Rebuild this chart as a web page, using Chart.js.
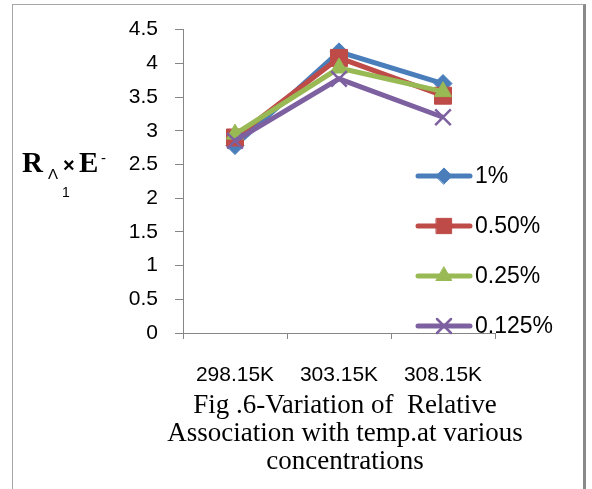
<!DOCTYPE html>
<html>
<head>
<meta charset="utf-8">
<script src="https://cdn.jsdelivr.net/npm/chart.js@4.4.1/dist/chart.umd.min.js"></script>
<style>
  body { margin: 0; background: #fff; }
  #wrap { position: relative; width: 592px; height: 489px; overflow: hidden; background: #fff; }
  #frame { position: absolute; left: 12px; top: 4px; width: 570px; height: 520px;
           border-left: 1px solid #a6a6a6; border-top: 1px solid #a6a6a6; border-right: 3px solid #8a8a8a; }
  #relAssocChart { position: absolute; left: 0; top: 0; }
  .yt { position: absolute; line-height: 1; white-space: nowrap; color: #000; }
  .serif { font-family: 'Liberation Serif', 'Times New Roman', serif; font-weight: bold; }
  .sans { font-family: 'Liberation Sans', Arial, sans-serif; }
  #caption { position: absolute; left: 145px; width: 400px; top: 390px; text-align: center;
             font-family: 'Liberation Serif', 'Times New Roman', serif; font-size: 27px; line-height: 28px; color: #000; }
</style>
</head>
<body>
<div id="wrap">
  <div id="frame"></div>
  <canvas id="relAssocChart" width="592" height="489"></canvas>
  <span class="yt serif" style="left:22px;top:148px;font-size:29px">R</span>
  <span class="yt sans" style="left:48px;top:166px;font-size:15px">Λ</span>
  <span class="yt sans" style="left:63px;top:155px;font-size:20px;font-weight:bold">×</span>
  <span class="yt serif" style="left:79px;top:148px;font-size:29px">E</span>
  <span class="yt sans" style="left:101px;top:150px;font-size:15px">-</span>
  <span class="yt sans" style="left:62px;top:185px;font-size:14px">1</span>
  <div id="caption">Fig .6-Variation of&nbsp; Relative<br>Association with temp.at various<br>concentrations</div>
</div>
<script>
const temperatures = ['298.15K', '303.15K', '308.15K'];
const seriesNames = ['1%', '0.50%', '0.25%', '0.125%'];
const conc1 = [2.78, 4.17, 3.70];
const conc050 = [2.90, 4.08, 3.52];
const conc025 = [2.95, 3.93, 3.58];
const conc0125 = [2.85, 3.77, 3.20];
const yMin = 0;
const yMax = 4.5;
const yStep = 0.5;

const axisGrey = '#868686';

Chart.defaults.font.family = "'Liberation Sans', Arial, sans-serif";
Chart.defaults.color = '#000';

const makeSeries = function (label, values, color, style, radius, order) {
    return {
        label: label,
        data: values,
        borderColor: color,
        backgroundColor: color,
        borderWidth: 5,
        pointStyle: style,
        pointRadius: radius,
        pointBackgroundColor: color,
        pointBorderColor: color,
        pointBorderWidth: style === 'crossRot' ? 2.5 : 1,
        tension: 0,
        order: order
    };
};

// legend sits over the right part of the plot, so draw it by hand
const sideLegend = {
    id: 'sideLegend',
    afterDraw(chart) {
        const ctx = chart.ctx;
        chart.data.datasets.forEach((ds, i) => {
            const y = 176 + i * 50;
            ctx.save();
            ctx.strokeStyle = ds.borderColor;
            ctx.lineWidth = 5;
            ctx.lineCap = 'round';
            ctx.beginPath();
            ctx.moveTo(418, y);
            ctx.lineTo(470, y);
            ctx.stroke();
            ctx.fillStyle = ds.pointBackgroundColor;
            ctx.lineWidth = ds.pointBorderWidth;
            Chart.helpers.drawPoint(ctx, {
                pointStyle: ds.pointStyle,
                radius: ds.pointRadius * 0.9,
                borderWidth: ds.pointBorderWidth
            }, 444, y);
            ctx.fillStyle = '#000';
            ctx.font = "23px 'Liberation Sans', Arial, sans-serif";
            ctx.textBaseline = 'middle';
            ctx.fillText(ds.label, 475, y + 1);
            ctx.restore();
        });
    }
};

const data = {
    labels: temperatures,
    datasets: [
        makeSeries(seriesNames[0], conc1, '#4a7ebb', 'rectRot', 9, 3),
        makeSeries(seriesNames[1], conc050, '#be4b48', 'rect', 12, 2),
        makeSeries(seriesNames[2], conc025, '#98b954', 'triangle', 10, 1),
        makeSeries(seriesNames[3], conc0125, '#7d60a0', 'crossRot', 11, 0)
    ]
};

const config = {
    type: 'line',
    data: data,
    options: {
        responsive: false,
        animation: false,
        events: [],
        layout: { padding: { left: 123, right: 97, top: 25, bottom: 100 } },
        plugins: {
            legend: { display: false },
            tooltip: { enabled: false }
        },
        scales: {
            x: {
                offset: true,
                grid: { offset: true, drawOnChartArea: false, drawTicks: true, tickLength: 6, color: axisGrey },
                border: { color: axisGrey },
                ticks: { font: { size: 21 }, padding: 24, maxRotation: 0 },
                afterFit: function (scale) { scale.height = 56; }
            },
            y: {
                min: yMin,
                max: yMax,
                grid: { drawOnChartArea: false, drawTicks: true, tickLength: 8, color: axisGrey },
                border: { color: axisGrey },
                ticks: {
                    stepSize: yStep,
                    font: { size: 21 },
                    padding: 17,
                    callback: function (value) { return String(Number(value.toFixed(1))); }
                },
                afterFit: function (scale) { scale.width = 60; }
            }
        }
    },
    plugins: [sideLegend]
};

const relAssocChart = new Chart(
    document.getElementById('relAssocChart'),
    config
);
</script>
</body>
</html>
